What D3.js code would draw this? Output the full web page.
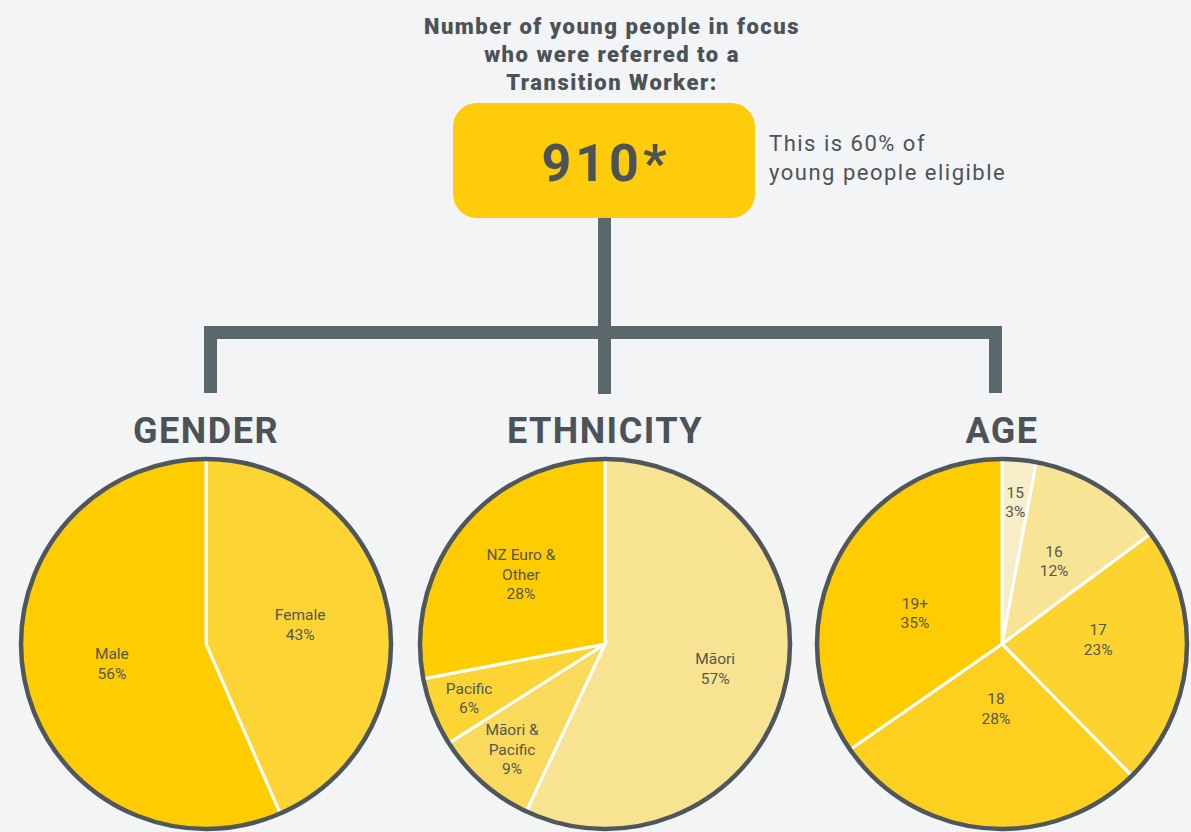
<!DOCTYPE html>
<html>
<head>
<meta charset="utf-8">
<script src="https://cdn.jsdelivr.net/npm/d3@7"></script>
<style>
  html, body { margin: 0; padding: 0; background: #f3f4f6; }
  svg { display: block; font-family: Roboto, "Open Sans", sans-serif; }
</style>
</head>
<body>
<svg id="chart" width="1191" height="832"></svg>
<script>
// ---- data ----
const titleLines = ["Number of young people in focus", "who were referred to a", "Transition Worker:"];
const totalValue = "910*";
const noteLines = ["This is 60% of", "young people eligible"];

const genderCategories = ["Female", "Male"];
const genderValues = [43, 56];

const ethnicityCategories = ["Māori", "Māori & Pacific", "Pacific", "NZ Euro & Other"];
const ethnicityLabels = [["Māori"], ["Māori &", "Pacific"], ["Pacific"], ["NZ Euro &", "Other"]];
const ethnicityValues = [57, 9, 6, 28];

const ageCategories = ["15", "16", "17", "18", "19+"];
const ageValues = [3, 12, 23, 28, 35];

// ---- layout / style ----
const W = 1191, H = 832;
const ink = "#4b5358";
const connector = "#5b676c";
const R = 185;
const cy = 644;

const panels = [
  { title: "GENDER", cx: 206, cats: genderCategories, labels: genderCategories.map(d => [d]), values: genderValues,
    colors: ["#fcd535", "#ffcc00"], labelR: [0.52, 0.52], labelDA: [0, 0] },
  { title: "ETHNICITY", cx: 605, cats: ethnicityCategories, labels: ethnicityLabels, values: ethnicityValues,
    colors: ["#f8e393", "#fada5c", "#fcd535", "#ffcc00"], labelR: [0.61, 0.76, 0.79, 0.59], labelDA: [0, 0, 0, 0] },
  { title: "AGE", cx: 1002, cats: ageCategories, labels: ageCategories.map(d => [d]), values: ageValues,
    colors: ["#f7edc8", "#f8e495", "#fdd42e", "#fdd020", "#ffcc00"], labelR: [0.77, 0.53, 0.52, 0.35, 0.50], labelDA: [0, 0, -7, 0, -8] }
];

const svg = d3.select("#chart");
svg.append("rect").attr("width", W).attr("height", H).attr("fill", "#f3f4f6");

// Title
const title = svg.append("text").attr("text-anchor", "middle")
  .attr("font-size", 22).attr("font-weight", 900).attr("fill", ink).attr("letter-spacing", 1.5);
titleLines.forEach((t, i) => {
  title.append("tspan").attr("x", 612).attr("y", 34 + i * 28).text(t);
});

// Connector lines
const g = svg.append("g").attr("fill", connector);
g.append("rect").attr("x", 598).attr("y", 210).attr("width", 13).attr("height", 184);
g.append("rect").attr("x", 204).attr("y", 326).attr("width", 798).attr("height", 13);
g.append("rect").attr("x", 204).attr("y", 326).attr("width", 13).attr("height", 67);
g.append("rect").attr("x", 989).attr("y", 326).attr("width", 13).attr("height", 67);

// Box
svg.append("rect").attr("x", 453).attr("y", 103).attr("width", 302).attr("height", 115)
  .attr("rx", 24).attr("fill", "#fecc0a");
svg.append("text").attr("x", 606).attr("y", 181).attr("text-anchor", "middle")
  .attr("font-size", 52).attr("font-weight", 700).attr("fill", ink)
  .attr("letter-spacing", 4).text(totalValue);

// Note
const note = svg.append("text").attr("font-size", 22).attr("fill", ink).attr("letter-spacing", 1.5);
noteLines.forEach((t, i) => {
  note.append("tspan").attr("x", 769).attr("y", 151 + i * 29).text(t);
});

// Pies
const pie = d3.pie().sort(null).value(d => d.v);
const arc = d3.arc().innerRadius(0).outerRadius(R);

panels.forEach(p => {
  const data = p.cats.map((c, i) => ({ c, v: p.values[i], lab: p.labels[i], col: p.colors[i], lr: p.labelR[i], da: p.labelDA[i] }));
  const arcs = pie(data);
  const pg = svg.append("g").attr("transform", `translate(${p.cx},${cy})`);

  svg.append("text").attr("x", p.cx).attr("y", 443).attr("text-anchor", "middle")
    .attr("font-size", 36).attr("font-weight", 700).attr("fill", ink)
    .attr("letter-spacing", 1.5).text(p.title);

  pg.selectAll("path.slice").data(arcs).join("path")
    .attr("class", "slice")
    .attr("d", arc)
    .attr("fill", d => d.data.col)
    .attr("stroke", "#ffffff")
    .attr("stroke-width", 3)
    .attr("stroke-linejoin", "miter");

  pg.append("circle").attr("r", R).attr("fill", "none")
    .attr("stroke", "#50575c").attr("stroke-width", 4.5);

  arcs.forEach(a => {
    const mid = (a.startAngle + a.endAngle) / 2 + a.data.da * Math.PI / 180;
    const rr = R * a.data.lr;
    const x = Math.sin(mid) * rr, y = -Math.cos(mid) * rr;
    const lines = a.data.lab.concat([a.data.v + "%"]);
    const lh = 19.5;
    const t = pg.append("text").attr("text-anchor", "middle")
      .attr("font-size", 15.5).attr("fill", "#55574f");
    lines.forEach((l, i) => {
      t.append("tspan").attr("x", x)
        .attr("y", y + (i - (lines.length - 1) / 2) * lh + 5.5)
        .text(l);
    });
  });
});
</script>
</body>
</html>
